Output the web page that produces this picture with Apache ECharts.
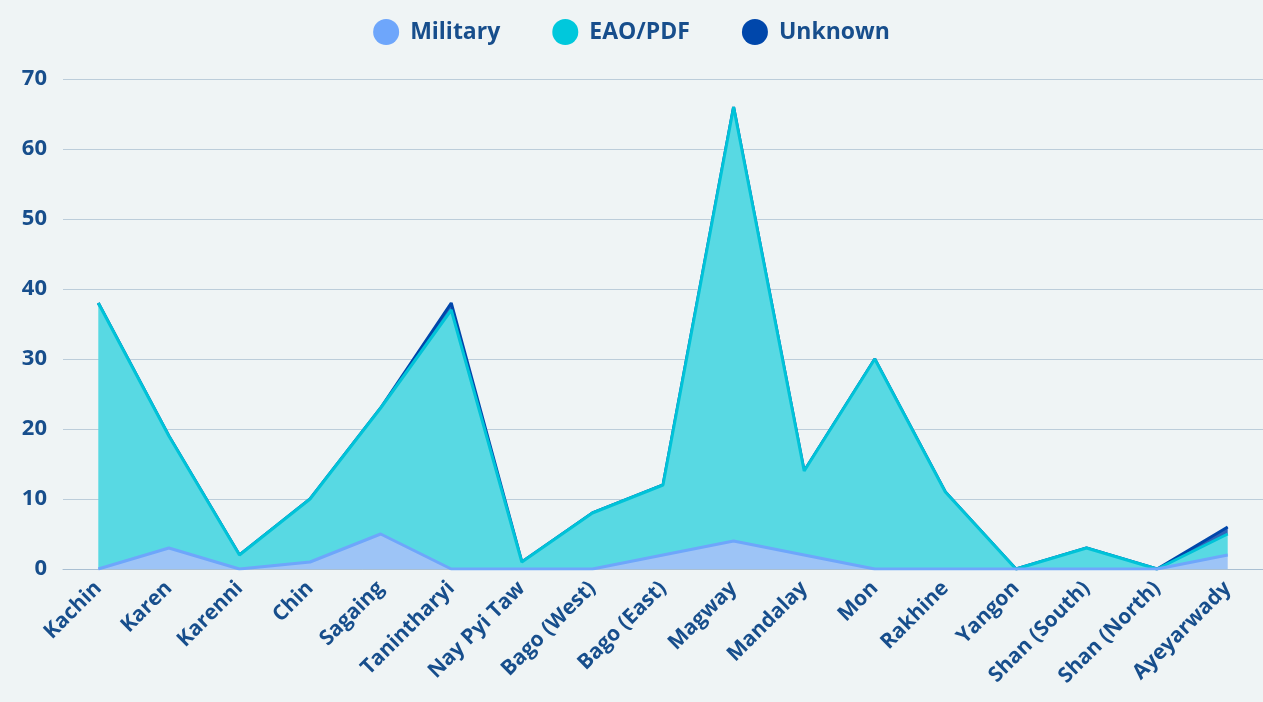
<!DOCTYPE html>
<html>
<head>
<meta charset="utf-8">
<script src="https://cdn.jsdelivr.net/npm/echarts@6/dist/echarts.min.js"></script>
<style>
  html, body { margin: 0; padding: 0; background: #eff4f5; }
  #chart { width: 1263px; height: 702px; }
</style>
</head>
<body>
<div id="chart"></div>
<script>
const regions = ['Kachin', 'Karen', 'Karenni', 'Chin', 'Sagaing', 'Tanintharyi', 'Nay Pyi Taw',
  'Bago (West)', 'Bago (East)', 'Magway', 'Mandalay', 'Mon', 'Rakhine', 'Yangon',
  'Shan (South)', 'Shan (North)', 'Ayeyarwady'];
const military = [0, 3, 0, 1, 5, 0, 0, 0, 2, 4, 2, 0, 0, 0, 0, 0, 2];
const eaoPdf   = [38, 16, 2, 9, 18, 37, 1, 8, 10, 62, 12, 30, 11, 0, 3, 0, 3];
const unknown  = [0, 0, 0, 0, 0, 1, 0, 0, 0, 0, 0, 0, 0, 0, 0, 0, 1];
const yTicks = [0, 10, 20, 30, 40, 50, 60, 70];

const textColor = '#174e8c';
const font = '"Open Sans", sans-serif';

let myChart = echarts.init(document.getElementById('chart'));
myChart.setOption({
  backgroundColor: '#eff4f5',
  animation: false,
  legend: {
    top: 14,
    left: 'center',
    icon: 'circle',
    itemWidth: 26,
    itemHeight: 26,
    itemGap: 52,
    textStyle: { color: textColor, fontSize: 23, fontWeight: 'bold', fontFamily: font, padding: [0, 0, 0, 6] },
    data: ['Military', 'EAO/PDF', 'Unknown']
  },
  grid: {
    left: 63,
    top: 79,
    width: 1209,
    height: 490,
    containLabel: false
  },
  xAxis: {
    type: 'category',
    boundaryGap: true,
    data: regions,
    axisLine: { show: true, lineStyle: { color: '#a9bfd2', width: 1 } },
    axisTick: { show: false },
    axisLabel: {
      rotate: 45,
      interval: 0,
      margin: 16,
      color: textColor,
      fontSize: 21,
      fontWeight: 'bold',
      fontFamily: font
    }
  },
  yAxis: {
    type: 'value',
    min: yTicks[0],
    max: yTicks[yTicks.length - 1],
    interval: 10,
    axisLine: { show: false },
    axisTick: { show: false },
    axisLabel: {
      margin: 16,
      color: textColor,
      fontSize: 22,
      fontWeight: 'bold',
      fontFamily: font
    },
    splitLine: { lineStyle: { color: '#bccdda', width: 1 } }
  },
  series: [
    {
      name: 'Military',
      type: 'line',
      stack: 'total',
      data: military,
      z: 4,
      symbol: 'none',
      itemStyle: { color: '#6ea6fb' },
      lineStyle: { color: '#6ea6fb', width: 3 },
      areaStyle: { color: '#9dc4f6', opacity: 1 }
    },
    {
      name: 'EAO/PDF',
      type: 'line',
      stack: 'total',
      data: eaoPdf,
      z: 3,
      symbol: 'none',
      itemStyle: { color: '#00c8dc' },
      lineStyle: { color: '#00c3d8', width: 3 },
      areaStyle: { color: '#58d9e3', opacity: 1 }
    },
    {
      name: 'Unknown',
      type: 'line',
      stack: 'total',
      data: unknown,
      z: 2,
      symbol: 'none',
      itemStyle: { color: '#0047ab' },
      lineStyle: { color: '#0047ab', width: 3 },
      areaStyle: { color: '#2f63b8', opacity: 1 }
    }
  ]
});
</script>
</body>
</html>
